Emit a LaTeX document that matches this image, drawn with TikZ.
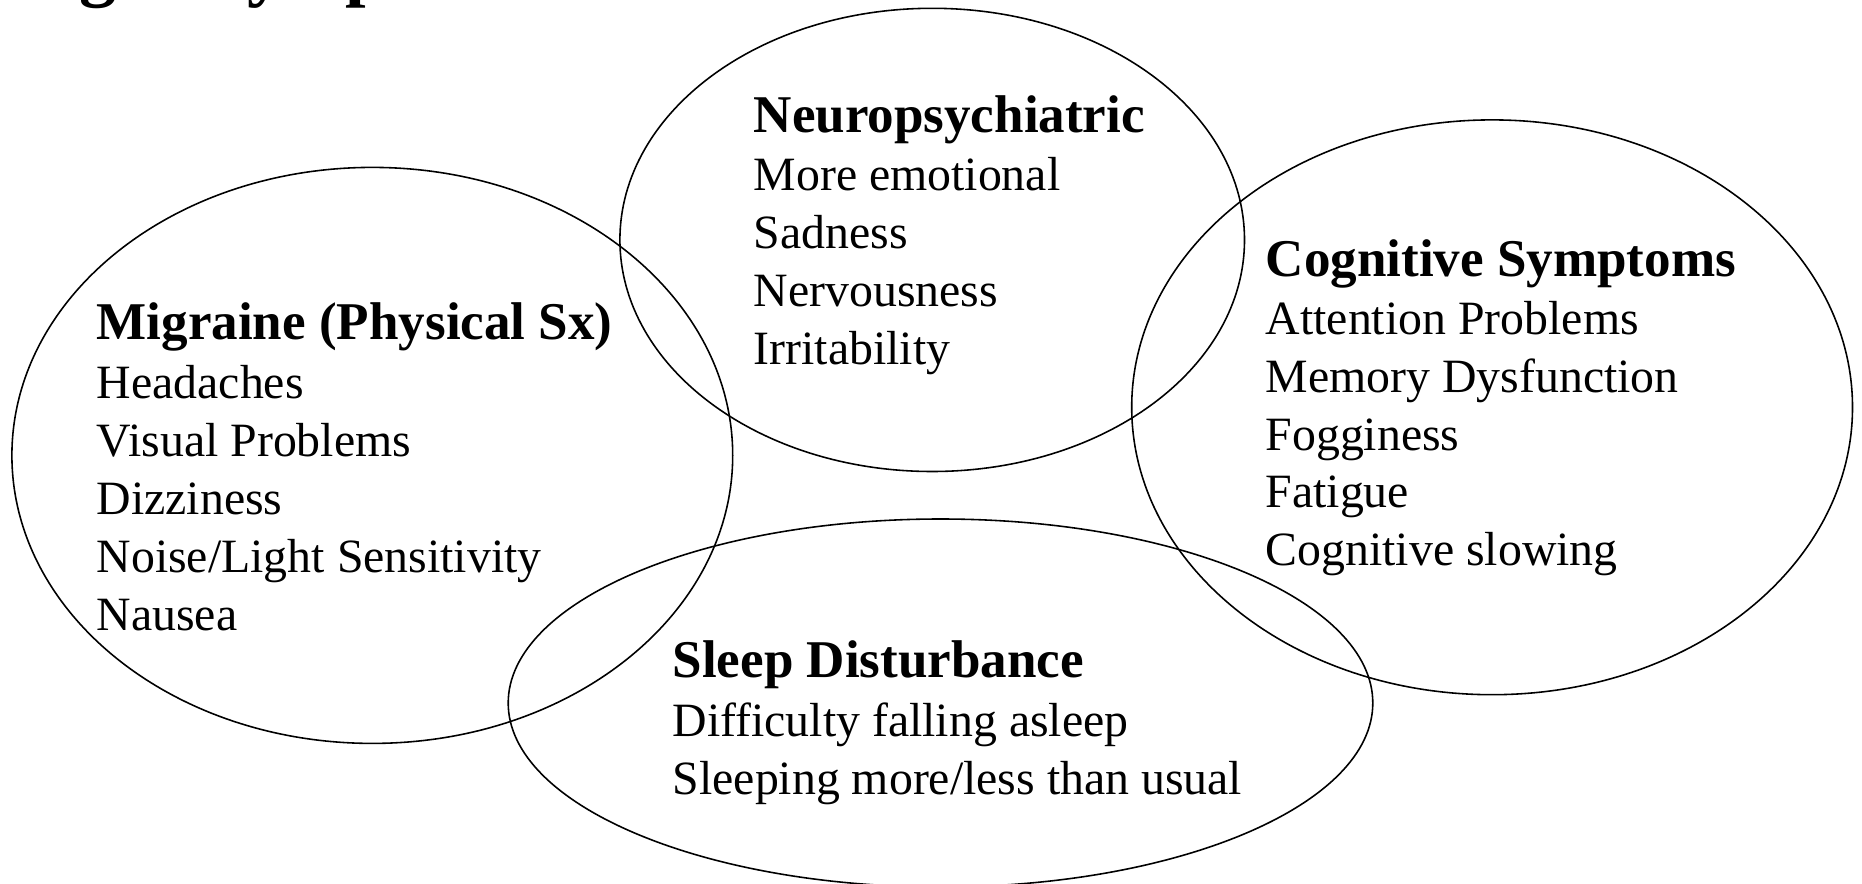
\documentclass[tikz,border=0pt]{standalone}
\usepackage{fontspec}
\setmainfont{Liberation Serif}
\usepackage{tikz}

\tikzset{
	head/.style={anchor=base west,inner sep=0pt,font=\fontsize{15.1}{17}\selectfont\bfseries},
	item/.style={anchor=base west,inner sep=0pt,font=\fontsize{13.6}{16.5}\selectfont},
	ring/.style={draw,line width=0.45pt}
}

\begin{document}
\begin{tikzpicture}
	\useasboundingbox (0,0) rectangle (18.62,-8.84);

	% title, cut off at the top of the page
	\node[anchor=base west,inner sep=0pt,font=\fontsize{21}{25}\selectfont\bfseries] (title) at (0.17,0.07) {Signs/Symptoms};

	% the four clusters
	\draw[ring] (3.723,-4.554) ellipse [x radius=3.604, y radius=2.880];
	\draw[ring] (9.322,-2.399) ellipse [x radius=3.123, y radius=2.316];
	\draw[ring] (14.921,-4.073) ellipse [x radius=3.604, y radius=2.874];
	\draw[ring] (9.405,-7.03) ellipse [x radius=4.323, y radius=1.84];

	\node[head] (Migraine) at (0.96,-3.40) {Migraine (Physical Sx)};
	\foreach \txt [count=\i] in {Headaches,Visual Problems,Dizziness,Noise/Light Sensitivity,Nausea}
		\node[item] (Migraine\i) at (0.96,{-3.41-0.578*\i}) {\txt};

	\node[head] (Neuro) at (7.53,-1.33) {Neuropsychiatric};
	\foreach \txt [count=\i] in {More emotional,Sadness,Nervousness,Irritability}
		\node[item] (Neuro\i) at (7.53,{-1.32-0.582*\i}) {\txt};

	\node[head] (Cognitive) at (12.65,-2.77) {Cognitive Symptoms};
	\foreach \txt [count=\i] in {Attention Problems,Memory Dysfunction,Fogginess,Fatigue,Cognitive slowing}
		\node[item] (Cognitive\i) at (12.65,{-2.77-0.577*\i}) {\txt};

	\node[head] (Sleep) at (6.72,-6.77) {Sleep Disturbance};
	\foreach \txt [count=\i] in {Difficulty falling asleep,Sleeping more/less than usual}
		\node[item] (Sleep\i) at (6.72,{-6.78-0.58*\i}) {\txt};
\end{tikzpicture}
\end{document}
